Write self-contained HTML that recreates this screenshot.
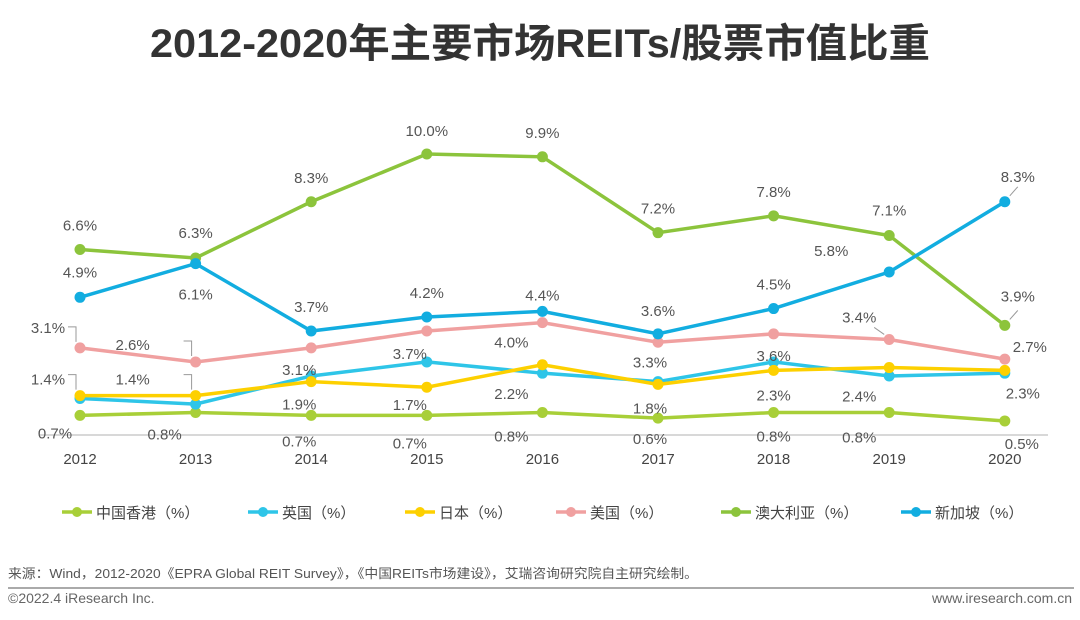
<!DOCTYPE html>
<html><head><meta charset="utf-8"><style>
body{margin:0;width:1080px;height:620px;background:#fff;overflow:hidden;font-family:"Liberation Sans","Noto Sans CJK SC",sans-serif}
</style></head><body>
<svg id="c" width="1080" height="620" style="position:absolute;left:0;top:0">
<text x="540" y="57" text-anchor="middle" font-size="40" font-weight="bold" fill="#333" textLength="780" lengthAdjust="spacingAndGlyphs">2012-2020年主要市场REITs/股票市值比重</text>
<line x1="40" y1="435" x2="1048" y2="435" stroke="#ccc" stroke-width="1.5"/>
<g id="plot"></g>
<text x="8" y="578" font-size="13" fill="#555" textLength="690" lengthAdjust="spacingAndGlyphs">来源：Wind，2012-2020《EPRA Global REIT Survey》，《中国REITs市场建设》，艾瑞咨询研究院自主研究绘制。</text>
<line x1="8" y1="588" x2="1074" y2="588" stroke="#aaa" stroke-width="2"/>
<text x="8" y="603" font-size="14" fill="#666">©2022.4 iResearch Inc.</text>
<text x="1072" y="603" text-anchor="end" font-size="14" fill="#666">www.iresearch.com.cn</text>
</svg>
<script>
const years=["2012","2013","2014","2015","2016","2017","2018","2019","2020"];
const names=["中国香港（%）","英国（%）","日本（%）","美国（%）","澳大利亚（%）","新加坡（%）"];
const hk=[0.7,0.8,0.7,0.7,0.8,0.6,0.8,0.8,0.5];
const uk=[1.3,1.1,2.1,2.6,2.2,1.9,2.6,2.1,2.2];
const jp=[1.4,1.4,1.9,1.7,2.5,1.8,2.3,2.4,2.3];
const us=[3.1,2.6,3.1,3.7,4.0,3.3,3.6,3.4,2.7];
const au=[6.6,6.3,8.3,10.0,9.9,7.2,7.8,7.1,3.9];
const sg=[4.9,6.1,3.7,4.2,4.4,3.6,4.5,5.8,8.3];
const series=[hk,uk,jp,us,au,sg];
const colors=["#a8cf38","#2ec5e8","#fdd000","#f0a0a0","#8cc43c","#12ade0"];
const keys=["hk","uk","japan","us","australia","singapore"];
const X=i=>80+i*115.6, Y=v=>435-v*28.1;
const svg=document.getElementById('plot'),NS="http://www.w3.org/2000/svg";
function mk(t,a,p){const e=document.createElementNS(NS,t);for(const k in a)e.setAttribute(k,a[k]);(p||svg).appendChild(e);return e;}
// label placements: [series, year, dx, dy] relative to point (layout only)
const place=[
[4,0,0,-25],[4,1,0,-26],[4,2,0,-25],[4,3,0,-24],[4,4,0,-25],[4,5,0,-25],[4,6,0,-25],[4,7,0,-26],[4,8,13,-30],
[5,0,0,-26],[5,1,0,30],[5,2,0,-25],[5,3,0,-25],[5,4,0,-17],[5,5,0,-24],[5,6,0,-25],[5,7,-58,-22],[5,8,13,-26],
[3,0,-32,-21],[3,1,-63,-18],[3,2,-12,21],[3,3,-17,22],[3,4,-31,19],[3,5,-8,19],[3,6,0,21],[3,7,-30,-23],[3,8,25,-13],
[2,0,-32,-17],[2,1,-63,-17],[2,2,-12,22],[2,3,-17,17],[1,4,-31,20],[2,5,-8,23],[2,6,0,24],[2,7,-30,28],[2,8,18,22],
[0,0,-25,17],[0,1,-31,21],[0,2,-12,25],[0,3,-17,27],[0,4,-31,23],[0,5,-8,20],[0,6,0,23],[0,7,-30,24],[0,8,17,22]];
// leader lines: [series, year, variant]
const leaders=[[3,0,'a'],[3,1,'a'],[2,0,'a'],[2,1,'a'],[3,7,'b'],[4,8,'c'],[5,8,'c']];
leaders.forEach(L=>{const x=X(L[1]),y=Y(series[L[0]][L[1]]);let pts;
  if(L[2]=='a')pts=[[x-12,y-21],[x-4,y-21],[x-4,y-6]];
  else if(L[2]=='b')pts=[[x-15,y-12],[x-5,y-5]];
  else pts=[[x+5,y-6],[x+13,y-15]];
  const l=mk('polyline',{points:pts.map(p=>p.join(',')).join(' '),fill:'none',stroke:'#999','stroke-width':1});
  
  });
series.forEach((s,k)=>{
  const l=mk('polyline',{points:s.map((v,i)=>X(i)+','+Y(v)).join(' '),fill:'none',stroke:colors[k],'stroke-width':3.5});
  
  
  s.forEach((v,i)=>{const c=mk('circle',{cx:X(i),cy:Y(v),r:5.5,fill:colors[k]});
    
    });
});
place.forEach(p=>{const v=series[p[0]][p[1]];
  const t=mk('text',{x:X(p[1])+p[2],y:Y(v)+p[3]+6,'text-anchor':'middle','font-size':15,fill:'#555'});
  t.textContent=v.toFixed(1)+'%';
  
  });
years.forEach((y,i)=>{const t=mk('text',{x:X(i),y:464,'text-anchor':'middle','font-size':15,fill:'#444'});t.textContent=y;
  
  });
const lx=[62,248,405,556,721,901];
names.forEach((n,k)=>{const g=mk('g',{});
  
  
  mk('line',{x1:lx[k],y1:512,x2:lx[k]+30,y2:512,stroke:colors[k],'stroke-width':3.5},g);
  mk('circle',{cx:lx[k]+15,cy:512,r:5,fill:colors[k]},g);
  const t=mk('text',{x:lx[k]+34,y:518,'font-size':15,fill:'#444'},g);t.textContent=n;});
</script>
</body></html>
